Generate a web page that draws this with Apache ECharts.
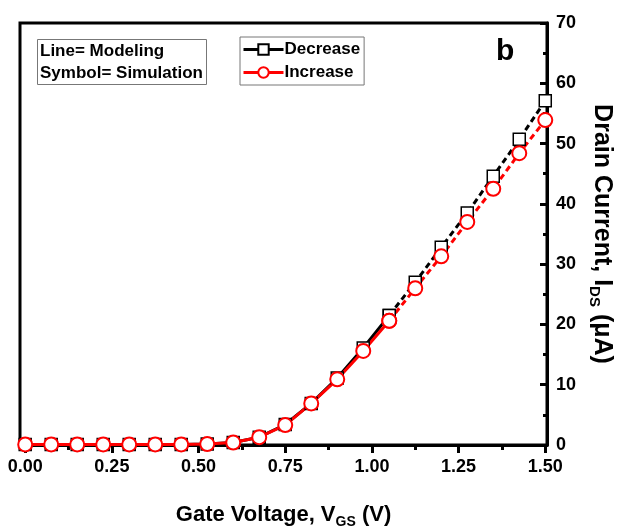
<!DOCTYPE html>
<html>
<head>
<meta charset="utf-8">
<script src="https://cdn.jsdelivr.net/npm/echarts@6/dist/echarts.min.js"></script>
<style>
    html, body { margin: 0; padding: 0; background: #fff; }
    #chart { width: 630px; height: 531px; }
</style>
</head>
<body>
<div id="chart"></div>
<script>
// gate voltage (V)
const vgs = [0, 0.075, 0.15, 0.225, 0.3, 0.375, 0.45, 0.525, 0.6, 0.675, 0.75,
    0.825, 0.9, 0.975, 1.05, 1.125, 1.2, 1.275, 1.35, 1.425, 1.5];
// drain current (uA)
const decrease = [0.1, 0.1, 0.1, 0.1, 0.1, 0.1, 0.1, 0.15, 0.4, 1.3, 3.4,
    6.9, 11.1, 16.1, 21.5, 27.0, 32.8, 38.5, 44.6, 50.7, 57.1];
const increase = [0.1, 0.1, 0.1, 0.1, 0.1, 0.1, 0.1, 0.15, 0.4, 1.3, 3.3,
    6.9, 10.9, 15.6, 20.6, 26.0, 31.3, 37.0, 42.5, 48.4, 53.9];
const splitIdx = 14; // modeling line is solid up to 1.05 V, dashed after

const xMajor = [0, 0.25, 0.5, 0.75, 1.0, 1.25, 1.5];
const xMinor = [0.125, 0.375, 0.625, 0.875, 1.125, 1.375];

const pairs = (ys, a, b) => vgs.slice(a, b).map((x, i) => [x, ys[a + i]]);

const chart = echarts.init(document.getElementById('chart'));

const bold = { fontFamily: 'Liberation Sans, Arial', fontWeight: 'bold', color: '#000' };

const mkSeries = (name, ys, color, symbol, size, bw, solid) => ({
    name: name,
    type: 'line',
    data: solid ? pairs(ys, 0, splitIdx + 1) : pairs(ys, splitIdx, vgs.length),
    symbol: symbol,
    symbolSize: size,
    showAllSymbol: true,
    itemStyle: { color: '#fff', borderColor: color, borderWidth: bw },
    lineStyle: { color: color, width: 3, type: solid ? 'solid' : [6, 4] },
    emphasis: { disabled: true },
    z: 3
});

const option = {
    animation: false,
    title: {
        text: 'Line= Modeling\nSymbol= Simulation',
        left: 37,
        top: 39,
        padding: [1, 4, 1, 3],
        borderColor: '#777',
        borderWidth: 1,
        textStyle: { ...bold, fontSize: 17, lineHeight: 22 }
    },
    legend: {
        data: ['Decrease', 'Increase'],
        orient: 'vertical',
        left: 240,
        top: 37,
        padding: [4, 4, 4, 2],
        itemGap: 6,
        itemWidth: 40,
        itemHeight: 13,
        borderColor: '#777',
        borderWidth: 1,
        selectedMode: false,
        lineStyle: { width: 3 },
        textStyle: { ...bold, fontSize: 17, padding: [0, 0, 0, -4] }
    },
    graphic: [{
        type: 'text',
        left: 496,
        top: 37,
        style: { text: 'b', font: 'bold 30px Liberation Sans, Arial', fill: '#000' }
    }],
    grid: {
        left: 20,
        right: 83,
        top: 23,
        bottom: 86,
        outerBoundsMode: 'none',
        containLabel: false,
        show: true,
        borderColor: '#000',
        borderWidth: 3
    },
    xAxis: [{
        type: 'value',
        min: -0.015,
        max: 1.505,
        position: 'bottom',
        name: 'Gate Voltage, V{sub|GS} (V)',
        nameLocation: 'middle',
        nameGap: 56,
        nameTextStyle: {
            ...bold, fontSize: 22, lineHeight: 28,
            rich: { sub: { ...bold, fontSize: 14, lineHeight: 12, verticalAlign: 'bottom' } }
        },
        axisLine: { show: true, onZero: false, lineStyle: { color: '#000', width: 3 } },
        axisTick: { show: true, customValues: xMajor, length: 8, lineStyle: { color: '#000', width: 3 } },
        axisLabel: {
            customValues: xMajor, margin: 13, ...bold, fontSize: 18,
            formatter: v => v.toFixed(2)
        },
        splitLine: { show: false }
    }, {
        type: 'value',
        min: -0.015,
        max: 1.505,
        position: 'bottom',
        axisLine: { show: false, onZero: false },
        axisTick: { show: true, customValues: xMinor, length: 5, lineStyle: { color: '#000', width: 3 } },
        axisLabel: { show: false },
        splitLine: { show: false }
    }],
    yAxis: {
        type: 'value',
        position: 'right',
        min: 0,
        max: 70,
        interval: 10,
        name: 'Drain Current, I{sub|DS} (\u03bcA)',
        nameLocation: 'middle',
        nameRotate: -90,
        nameGap: 38,
        nameTextStyle: {
            ...bold, fontSize: 25, lineHeight: 30,
            rich: { sub: { ...bold, fontSize: 15, lineHeight: 14, verticalAlign: 'bottom' } }
        },
        axisLine: { show: true, onZero: false, lineStyle: { color: '#000', width: 3 } },
        axisTick: { show: true, inside: true, length: 7, lineStyle: { color: '#000', width: 3 } },
        minorTick: { show: true, splitNumber: 2, length: 4, lineStyle: { color: '#000', width: 3 } },
        axisLabel: { margin: 9, ...bold, fontSize: 18 },
        splitLine: { show: false }
    },
    series: [
        mkSeries('Decrease-dash', decrease, '#000', 'rect', 12, 1.5, false),
        mkSeries('Decrease', decrease, '#000', 'rect', 12, 1.5, true),
        mkSeries('Increase-dash', increase, '#ff0000', 'circle', 14, 2, false),
        mkSeries('Increase', increase, '#ff0000', 'circle', 14, 2, true)
    ]
};

chart.setOption(option);
</script>
</body>
</html>
